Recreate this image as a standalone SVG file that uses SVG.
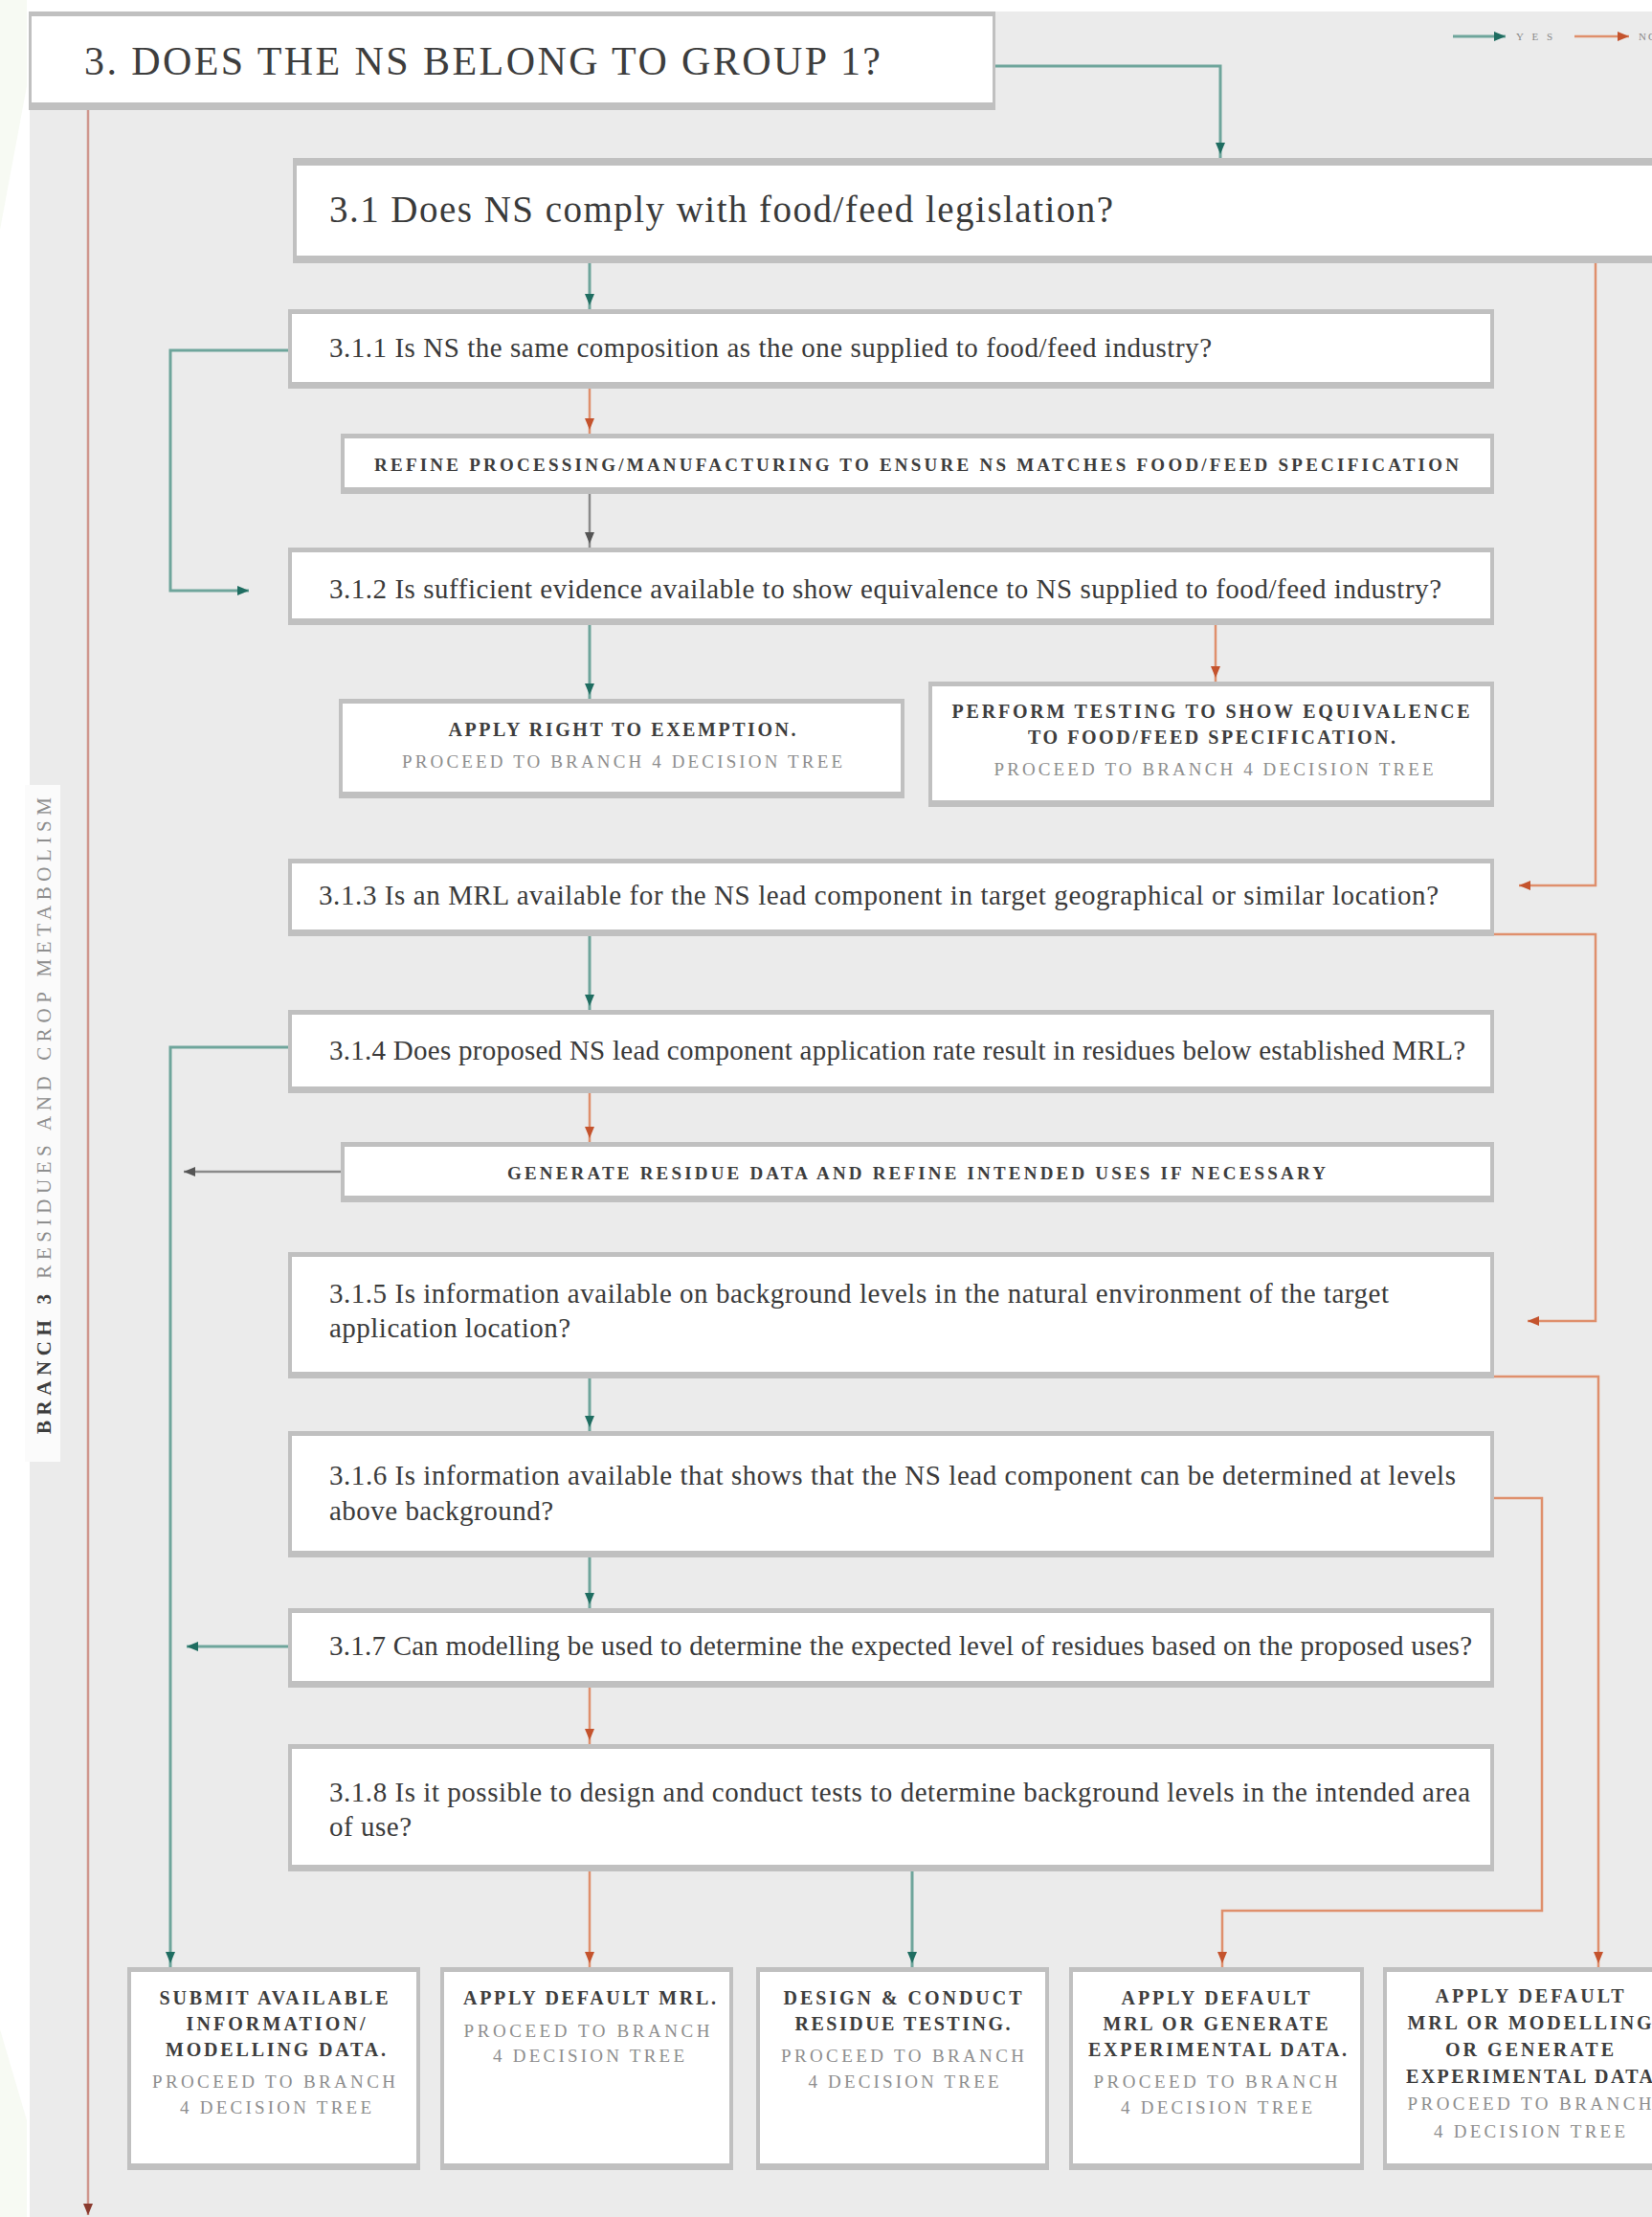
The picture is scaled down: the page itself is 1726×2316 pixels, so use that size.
<svg xmlns="http://www.w3.org/2000/svg" width="1726" height="2316" viewBox="0 0 1726 2316">
<style>
.bd{fill:#c0c0c0}
.bx{fill:#ffffff}
.q{font-family:"Liberation Serif","Times New Roman",serif;font-size:29px;fill:#3a3a3a}
.bt{font-family:"Liberation Serif","Times New Roman",serif;font-size:20px;font-weight:bold;fill:#3d3d3d}
.gt{font-family:"Liberation Serif","Times New Roman",serif;font-size:19px;fill:#8e8e8e}
.bt2{font-family:"Liberation Serif","Times New Roman",serif;font-size:19px;font-weight:bold;fill:#3d3d3d}
.teal{fill:none;stroke:#6ea59b;stroke-width:3}
.orange{fill:none;stroke:#df8f6c;stroke-width:2.5}
.gray{fill:none;stroke:#8a8a8a;stroke-width:2.5}
.red{fill:none;stroke:#cf968d;stroke-width:2.5}
</style>
<defs>
<marker id="aT" markerUnits="userSpaceOnUse" markerWidth="20" markerHeight="12" refX="16" refY="5" orient="auto"><path d="M0,0 L12,5 L0,10 z" fill="#1f6d61"/></marker>
<marker id="aTe" markerUnits="userSpaceOnUse" markerWidth="20" markerHeight="12" refX="12" refY="5" orient="auto"><path d="M0,0 L12,5 L0,10 z" fill="#1f6d61"/></marker>
<marker id="aO" markerUnits="userSpaceOnUse" markerWidth="20" markerHeight="12" refX="16" refY="5" orient="auto"><path d="M0,0 L12,5 L0,10 z" fill="#c4532d"/></marker>
<marker id="aOe" markerUnits="userSpaceOnUse" markerWidth="20" markerHeight="12" refX="12" refY="5" orient="auto"><path d="M0,0 L12,5 L0,10 z" fill="#c4532d"/></marker>
<marker id="aG" markerUnits="userSpaceOnUse" markerWidth="20" markerHeight="12" refX="16" refY="5" orient="auto"><path d="M0,0 L12,5 L0,10 z" fill="#555555"/></marker>
<marker id="aGe" markerUnits="userSpaceOnUse" markerWidth="20" markerHeight="12" refX="12" refY="5" orient="auto"><path d="M0,0 L12,5 L0,10 z" fill="#555555"/></marker>
<marker id="aR" markerUnits="userSpaceOnUse" markerWidth="20" markerHeight="12" refX="12" refY="5" orient="auto"><path d="M0,0 L12,5 L0,10 z" fill="#8a3a2e"/></marker>
</defs>

<rect x="0" y="0" width="1726" height="2316" fill="#ffffff"/>
<path d="M0,0 H28 V90 L0,240 Z" fill="#f7faf3"/>
<path d="M0,2120 L28,2215 V2316 H0 Z" fill="#f7faf3"/>
<rect x="31" y="12" width="1695" height="2304" fill="#ebebeb"/>

<!-- side label -->
<g id="side-label">
<rect x="26" y="820" width="37" height="707" fill="#fbfbfb"/>
<text transform="translate(53,1498) rotate(-90)" x="0" y="0" textLength="665" lengthAdjust="spacing" style="font-family:'Liberation Serif','Times New Roman',serif;font-size:21px;fill:#8e8e8e"><tspan font-weight="bold" fill="#3d3d3d">BRANCH 3</tspan> RESIDUES AND CROP METABOLISM</text>
</g>

<!-- legend -->
<g id="legend">
<line x1="1518" y1="38" x2="1573" y2="38" class="teal" marker-end="url(#aTe)"/>
<text x="1584" y="42" textLength="38" lengthAdjust="spacing" style="font-family:'Liberation Serif',serif;font-size:11px;fill:#888">YES</text>
<line x1="1645" y1="38" x2="1702" y2="38" class="orange" marker-end="url(#aOe)"/>
<text x="1712" y="42" style="font-family:'Liberation Serif',serif;font-size:11px;fill:#888" letter-spacing="2">NO</text>
</g>

<!-- connectors -->
<g id="connectors">
<path d="M1040,69 H1275 V165" class="teal" stroke-width="4" marker-end="url(#aT)"/>
<path d="M92,115 V2314" class="red" marker-end="url(#aR)"/>
<path d="M616,275 V323" class="teal" marker-end="url(#aT)"/>
<path d="M616,406 V453" class="orange" marker-end="url(#aO)"/>
<path d="M616,516 V572" class="gray" marker-end="url(#aG)"/>
<path d="M301,366 H178 V617 H260" class="teal" marker-end="url(#aTe)"/>
<path d="M616,653 V730" class="teal" marker-end="url(#aT)"/>
<path d="M1270,653 V712" class="orange" marker-end="url(#aO)"/>
<path d="M1667,275 V925 H1587" class="orange" marker-end="url(#aOe)"/>
<path d="M616,978 V1055" class="teal" marker-end="url(#aT)"/>
<path d="M1561,976 H1667 V1380 H1596" class="orange" marker-end="url(#aOe)"/>
<path d="M301,1094 H178 V2055" class="teal" marker-end="url(#aT)"/>
<path d="M616,1142 V1193" class="orange" marker-end="url(#aO)"/>
<path d="M356,1224 H192" class="gray" stroke-width="3" marker-end="url(#aGe)"/>
<path d="M616,1440 V1495" class="teal" marker-end="url(#aT)"/>
<path d="M1561,1438 H1670 V2055" class="orange" marker-end="url(#aO)"/>
<path d="M616,1627 V1680" class="teal" marker-end="url(#aT)"/>
<path d="M1561,1565 H1611 V1996 H1277 V2055" class="orange" stroke-width="4" marker-end="url(#aO)"/>
<path d="M301,1720 H195" class="teal" stroke-width="4" marker-end="url(#aTe)"/>
<path d="M616,1763 V1822" class="orange" marker-end="url(#aO)"/>
<path d="M616,1955 V2055" class="orange" marker-end="url(#aO)"/>
<path d="M953,1955 V2055" class="teal" marker-end="url(#aT)"/>
</g>

<!-- nodes -->
<g id="n3">
<rect class="bd" x="30" y="12" width="1010" height="103"/>
<rect class="bx" x="33" y="17" width="1004" height="90"/>
<text x="88" y="78" textLength="832" lengthAdjust="spacing" style="font-family:'Liberation Serif','Times New Roman',serif;font-size:42px;fill:#3d3d3d">3. DOES THE NS BELONG TO GROUP 1?</text>
</g>

<g id="n31">
<rect class="bd" x="306" y="165" width="1440" height="110"/>
<rect class="bx" x="310" y="173" width="1440" height="94"/>
<text x="344" y="232" textLength="819" lengthAdjust="spacing" style="font-family:'Liberation Serif','Times New Roman',serif;font-size:39px;fill:#3a3a3a">3.1 Does NS comply with food/feed legislation?</text>
</g>

<g id="n311">
<rect class="bd" x="301" y="323" width="1260" height="83"/>
<rect class="bx" x="305" y="328" width="1252" height="71"/>
<text class="q" x="344" y="373" textLength="922" lengthAdjust="spacing">3.1.1 Is NS the same composition as the one supplied to food/feed industry?</text>
</g>

<g id="refine">
<rect class="bd" x="356" y="453" width="1205" height="63"/>
<rect class="bx" x="360" y="458" width="1197" height="51"/>
<text class="bt2" x="391" y="492" textLength="1133" lengthAdjust="spacing">REFINE PROCESSING/MANUFACTURING TO ENSURE NS MATCHES FOOD/FEED SPECIFICATION</text>
</g>

<g id="n312">
<rect class="bd" x="301" y="572" width="1260" height="81"/>
<rect class="bx" x="305" y="577" width="1252" height="69"/>
<text class="q" x="344" y="625" textLength="1162" lengthAdjust="spacing">3.1.2 Is sufficient evidence available to show equivalence to NS supplied to food/feed industry?</text>
</g>

<g id="exemption">
<rect class="bd" x="354" y="730" width="591" height="104"/>
<rect class="bx" x="358" y="735" width="583" height="92"/>
<text class="bt" x="650" y="769" text-anchor="middle" textLength="363" lengthAdjust="spacing">APPLY RIGHT TO EXEMPTION.</text>
<text class="gt" x="650" y="802" text-anchor="middle" textLength="460" lengthAdjust="spacing">PROCEED TO BRANCH 4 DECISION TREE</text>
</g>

<g id="perform">
<rect class="bd" x="970" y="712" width="591" height="131"/>
<rect class="bx" x="974" y="717" width="583" height="119"/>
<text class="bt" x="1265" y="750" text-anchor="middle" textLength="541" lengthAdjust="spacing">PERFORM TESTING TO SHOW EQUIVALENCE</text>
<text class="bt" x="1266" y="777" text-anchor="middle" textLength="384" lengthAdjust="spacing">TO FOOD/FEED SPECIFICATION.</text>
<text class="gt" x="1268" y="810" text-anchor="middle" textLength="459" lengthAdjust="spacing">PROCEED TO BRANCH 4 DECISION TREE</text>
</g>

<g id="n313">
<rect class="bd" x="301" y="897" width="1260" height="81"/>
<rect class="bx" x="305" y="902" width="1252" height="69"/>
<text class="q" x="333" y="945" textLength="1170" lengthAdjust="spacing">3.1.3 Is an MRL available for the NS lead component in target geographical or similar location?</text>
</g>

<g id="n314">
<rect class="bd" x="301" y="1055" width="1260" height="87"/>
<rect class="bx" x="305" y="1060" width="1252" height="75"/>
<text class="q" x="344" y="1107" textLength="1187" lengthAdjust="spacing">3.1.4 Does proposed NS lead component application rate result in residues below established MRL?</text>
</g>

<g id="generate">
<rect class="bd" x="356" y="1193" width="1205" height="63"/>
<rect class="bx" x="360" y="1198" width="1197" height="51"/>
<text class="bt2" x="530" y="1232" textLength="855" lengthAdjust="spacing">GENERATE RESIDUE DATA AND REFINE INTENDED USES IF NECESSARY</text>
</g>

<g id="n315">
<rect class="bd" x="301" y="1308" width="1260" height="132"/>
<rect class="bx" x="305" y="1313" width="1252" height="120"/>
<text class="q" x="344" y="1361" textLength="1107" lengthAdjust="spacing">3.1.5 Is information available on background levels in the natural environment of the target</text>
<text class="q" x="344" y="1397" textLength="252" lengthAdjust="spacing">application location?</text>
</g>

<g id="n316">
<rect class="bd" x="301" y="1495" width="1260" height="132"/>
<rect class="bx" x="305" y="1500" width="1252" height="120"/>
<text class="q" x="344" y="1551" textLength="1177" lengthAdjust="spacing">3.1.6 Is information available that shows that the NS lead component can be determined at levels</text>
<text class="q" x="344" y="1588" textLength="234" lengthAdjust="spacing">above background?</text>
</g>

<g id="n317">
<rect class="bd" x="301" y="1680" width="1260" height="83"/>
<rect class="bx" x="305" y="1685" width="1252" height="71"/>
<text class="q" x="344" y="1729" textLength="1194" lengthAdjust="spacing">3.1.7 Can modelling be used to determine the expected level of residues based on the proposed uses?</text>
</g>

<g id="n318">
<rect class="bd" x="301" y="1822" width="1260" height="133"/>
<rect class="bx" x="305" y="1827" width="1252" height="121"/>
<text class="q" x="344" y="1882" textLength="1192" lengthAdjust="spacing">3.1.8 Is it possible to design and conduct tests to determine background levels in the intended area</text>
<text class="q" x="344" y="1918" textLength="86" lengthAdjust="spacing">of use?</text>
</g>

<g id="out1">
<rect class="bd" x="133" y="2055" width="306" height="212"/>
<rect class="bx" x="137" y="2060" width="298" height="200"/>
<text class="bt" x="286" y="2094" text-anchor="middle" textLength="239" lengthAdjust="spacing">SUBMIT AVAILABLE</text>
<text class="bt" x="288" y="2121" text-anchor="middle" textLength="187" lengthAdjust="spacing">INFORMATION/</text>
<text class="bt" x="288" y="2148" text-anchor="middle" textLength="230" lengthAdjust="spacing">MODELLING DATA.</text>
<text class="gt" x="286" y="2181" text-anchor="middle" textLength="254" lengthAdjust="spacing">PROCEED TO BRANCH</text>
<text class="gt" x="288" y="2208" text-anchor="middle" textLength="200" lengthAdjust="spacing">4 DECISION TREE</text>
</g>

<g id="out2">
<rect class="bd" x="460" y="2055" width="306" height="212"/>
<rect class="bx" x="464" y="2060" width="298" height="200"/>
<text class="bt" x="616" y="2094" text-anchor="middle" textLength="264" lengthAdjust="spacing">APPLY DEFAULT MRL.</text>
<text class="gt" x="613" y="2128" text-anchor="middle" textLength="257" lengthAdjust="spacing">PROCEED TO BRANCH</text>
<text class="gt" x="615" y="2154" text-anchor="middle" textLength="200" lengthAdjust="spacing">4 DECISION TREE</text>
</g>

<g id="out3">
<rect class="bd" x="790" y="2055" width="306" height="212"/>
<rect class="bx" x="794" y="2060" width="298" height="200"/>
<text class="bt" x="943" y="2094" text-anchor="middle" textLength="249" lengthAdjust="spacing">DESIGN &amp; CONDUCT</text>
<text class="bt" x="943" y="2121" text-anchor="middle" textLength="225" lengthAdjust="spacing">RESIDUE TESTING.</text>
<text class="gt" x="943" y="2154" text-anchor="middle" textLength="254" lengthAdjust="spacing">PROCEED TO BRANCH</text>
<text class="gt" x="944" y="2181" text-anchor="middle" textLength="199" lengthAdjust="spacing">4 DECISION TREE</text>
</g>

<g id="out4">
<rect class="bd" x="1117" y="2055" width="308" height="212"/>
<rect class="bx" x="1121" y="2060" width="300" height="200"/>
<text class="bt" x="1270" y="2094" text-anchor="middle" textLength="197" lengthAdjust="spacing">APPLY DEFAULT</text>
<text class="bt" x="1270" y="2121" text-anchor="middle" textLength="235" lengthAdjust="spacing">MRL OR GENERATE</text>
<text class="bt" x="1272" y="2148" text-anchor="middle" textLength="270" lengthAdjust="spacing">EXPERIMENTAL DATA.</text>
<text class="gt" x="1270" y="2181" text-anchor="middle" textLength="255" lengthAdjust="spacing">PROCEED TO BRANCH</text>
<text class="gt" x="1271" y="2208" text-anchor="middle" textLength="200" lengthAdjust="spacing">4 DECISION TREE</text>
</g>

<g id="out5">
<rect class="bd" x="1445" y="2055" width="306" height="212"/>
<rect class="bx" x="1449" y="2060" width="298" height="200"/>
<text class="bt" x="1598" y="2092" text-anchor="middle" textLength="197" lengthAdjust="spacing">APPLY DEFAULT</text>
<text class="bt" x="1598" y="2120" text-anchor="middle" textLength="255" lengthAdjust="spacing">MRL OR MODELLING</text>
<text class="bt" x="1598" y="2148" text-anchor="middle" textLength="176" lengthAdjust="spacing">OR GENERATE</text>
<text class="bt" x="1598" y="2176" text-anchor="middle" textLength="258" lengthAdjust="spacing">EXPERIMENTAL DATA</text>
<text class="gt" x="1598" y="2204" text-anchor="middle" textLength="255" lengthAdjust="spacing">PROCEED TO BRANCH</text>
<text class="gt" x="1598" y="2233" text-anchor="middle" textLength="200" lengthAdjust="spacing">4 DECISION TREE</text>
</g>
</svg>
